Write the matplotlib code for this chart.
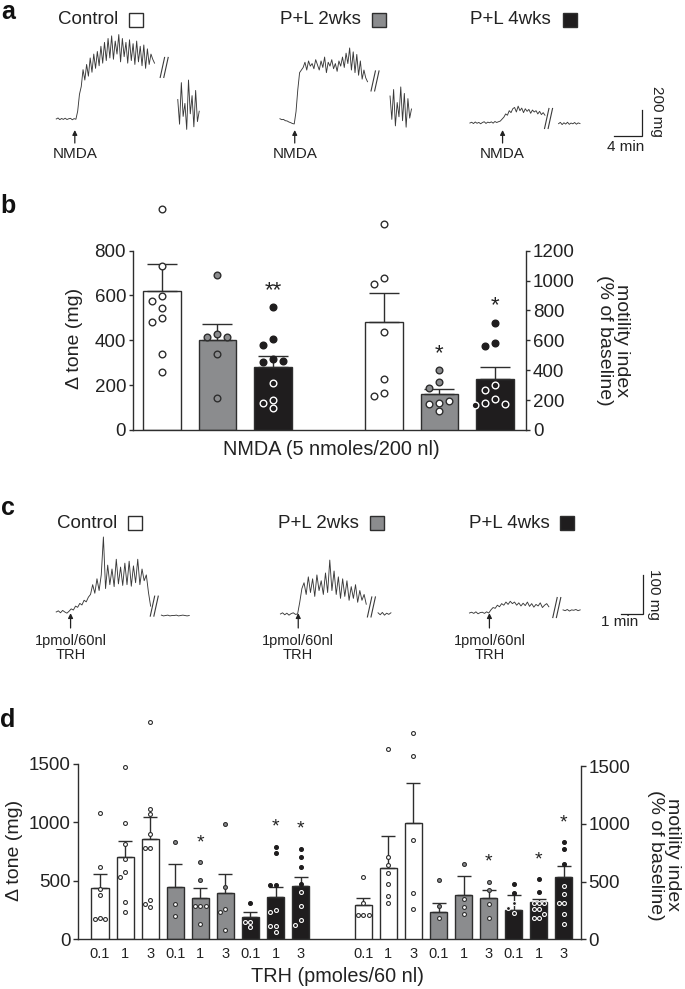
import numpy as np
import matplotlib.pyplot as plt
from matplotlib.patches import Rectangle

plt.rcParams['font.family'] = ['Liberation Sans', 'DejaVu Sans']

W, H = 685, 989

# ---------------- data ----------------
groups = ['Control', 'P+L 2wks', 'P+L 4wks']

# panel a: NMDA traces, tone (mg above baseline), one sample every 0.25 min
a_ctrl = [0, 8, -5, 4, -3, 6, -4, 2, 5, -6, 3, -2,
          60, 190, 250,
          380, 300, 420, 330, 470, 360, 500, 390, 520, 410, 560, 430, 590, 450,
          620, 470, 640, 460, 600, 500, 650, 440, 620, 480, 590, 430, 610, 450,
          580, 420, 600, 440, 560, 410, 570, 390, 540, 420, 500, 460, 430]
a_ctrl_post = [150, -40, 280, 20, 120, -80, 300, 40, 180, -60, 220, -20, 60]
a_2wk = [25, 18, 20, 10, 8, 0, -5, -12, -15,
         80, 250, 380, 400,
         420, 460, 400, 470, 430, 450, 410, 480, 440, 400, 470, 420, 500, 380,
         460, 430, 480, 410, 450, 390, 470, 430, 500, 420, 530, 450, 570, 400,
         540, 380, 520, 360, 470, 330, 400, 340, 310]
a_2wk_post = [200, 20, 250, -30, 150, 40, 270, 10, 220, -40, 180, 30, 100]
a_4wk = [0, 6, -4, 8, -2, 5, -6, 4, 10, -3, 7, 2, 9, -1, 12, 4, 10, 15,
         30, 45, 70, 60, 95, 80, 110,
         120, 85, 130, 95, 115, 80, 110, 90, 105, 75, 100, 85, 95, 70, 90, 65, 80, 60]
a_4wk_post = [-5, 5, -12, 2, -8, 6, -10, 0, -6, 4, -9, 1, -4]

# panel c: TRH traces, one sample every 0.1 min
c_ctrl = [0, 3, -2, 4, 0, -3, 2,
          8, 5, 15, 12, 22, 18, 30, 26, 38,
          45, 70, 48, 85, 55, 95, 192, 60, 120, 70, 110, 65, 135, 72, 115, 68,
          125, 70, 130, 66, 118, 75, 135, 70, 110, 80, 95,
          50, 15]
c_ctrl_post = [-8, -10, -9, -8, -10, -9, -9, -8, -10, -9, -8, -9, -10, -9]
c_2wk = [0, 3, -2, 2, -3, 1, 3, -1, 0,
         30, 65, 80,
         50, 95, 55, 90, 45, 100, 60, 85, 50, 105, 55, 138, 60, 110, 50, 95,
         40, 90, 45, 85, 35, 70, 40, 75, 30, 60, 35, 50, 25]
c_2wk_post = [3, -2, 4, -3, 2, -1, 3]
c_4wk = [0, 2, -1, 3, -2, 1, 2, -1, 3, 0,
         8, 14, 12, 20, 16, 24, 20, 28, 22, 30, 24, 28, 20, 26, 18, 25, 19, 28,
         17, 24, 15, 22, 18, 26, 14, 20, 24, 16]
c_4wk_post = [8, 6, 9, 5, 8, 7, 9, 6, 8]

# panel b: NMDA (5 nmoles/200 nl)
b_kinds = ['w', 'g', 'k']
tone_mean = [618, 402, 283]
tone_sem = [124, 73, 45]
tone_filled = [[], [693, 428, 416, 413, 338, 144], [547, 408, 377, 317, 305, 308]]
tone_open = [[986, 733, 599, 575, 542, 499, 481, 338, 258], [], [209, 134, 122, 97]]
tone_sig = ['', '', '**']
mot_mean = [726, 241, 342]
mot_sem = [194, 36, 78]
mot_filled = [[], [400, 320, 284], [719, 585, 563]]
mot_open = [[1378, 1014, 978, 659, 344, 250, 226], [181, 176, 196, 125],
            [299, 268, 206, 181, 172, 168]]
mot_sig = ['', '*', '*']

# panel d: TRH doses
doses = ['0.1', '1', '3'] * 3
d_kinds = ['w'] * 3 + ['g'] * 3 + ['k'] * 3
d_tone_mean = [436, 701, 858, 447, 356, 399, 188, 362, 456]
d_tone_sem = [125, 139, 190, 200, 80, 157, 43, 88, 80]
d_tone_filled = [[], [], [], [835], [658, 507], [986, 444], [313],
                 [792, 735, 464, 464], [775, 701, 621, 473]]
d_tone_open = [[1083, 621, 427, 379, 180, 174, 174],
               [1473, 997, 812, 684, 573, 533, 322, 231],
               [1855, 1117, 1068, 897, 783, 778, 336, 299, 274],
               [302, 202], [285, 285, 285, 131], [256, 234, 80],
               [151, 151, 108], [251, 231, 117, 117, 66], [405, 285, 165, 123]]
d_tone_sig = ['', '', '', '', '*', '', '', '*', '*']
d_mot_mean = [297, 614, 1003, 240, 383, 357, 257, 320, 543]
d_mot_sem = [58, 283, 348, 70, 168, 69, 129, 29, 88]
d_mot_filled = [[], [], [], [517, 291], [649], [500, 423], [483, 403],
                [520, 406], [843, 786, 651]]
d_mot_open = [[537, 312, 210, 210, 210],
              [1651, 709, 643, 577, 476, 378, 317],
              [1786, 1586, 860, 403, 266],
              [186], [346, 280, 217], [309, 186], [314, 274, 231],
              [311, 311, 311, 266, 266, 223, 186, 186],
              [460, 389, 314, 314, 223, 129]]
d_mot_sig = ['', '', '', '', '', '*', '', '*', '*']

# ---------------- style ----------------
EDGE = '#2e2e2e'
GRAY = '#8b8c8e'
BLACK = '#1f1d1e'
TRACE = '#3a3a3a'
FILL = {'w': 'white', 'g': GRAY, 'k': BLACK}
# (face, edge) for filled / open dots
DOT = {'w': {False: ('white', EDGE)},
       'g': {True: (GRAY, EDGE), False: ('white', EDGE)},
       'k': {True: (BLACK, BLACK), False: (BLACK, 'white')}}

fig = plt.figure(figsize=(W / 100, H / 100), dpi=100)


def fig_ax(x0, y0, x1, y1):
    return fig.add_axes([x0 / W, 1 - y1 / H, (x1 - x0) / W, (y1 - y0) / H])


def px_scale(ax):
    # data units per pixel
    x0, x1 = ax.get_xlim()
    y0, y1 = ax.get_ylim()
    bb = ax.get_position()
    return (x1 - x0) / (bb.width * W), (y1 - y0) / (bb.height * H)


def swarm(ys, step, diam):
    placed, ks = [], []
    for y in ys:
        for k in (0, -1, 1, -2, 2, -3, 3):
            if all((k * step - a) ** 2 + (y - b) ** 2 >= diam ** 2 for a, b in placed):
                break
        placed.append((k * step, y))
        ks.append(k)
    return ks


def bar_panel(ax, pos, means, sems, kinds, filled, opened, sig,
              width, cap, ms, mew, step_px, star_fs, star_gap):
    ux, uy = px_scale(ax)
    diam = (ms + mew) * 100 / 72
    for p, m, s, k, f, o, g in zip(pos, means, sems, kinds, filled, opened, sig):
        ax.bar(p, m, width, color=FILL[k], edgecolor=EDGE, linewidth=1.0, zorder=2)
        ax.errorbar(p, m, yerr=[[0], [s]], fmt='none', ecolor=EDGE,
                    elinewidth=1.0, capsize=cap, capthick=1.0, zorder=3)
        vals = list(f) + list(o)
        kind_f = [True] * len(f) + [False] * len(o)
        ks = swarm([v / uy for v in vals], step_px, diam)
        for v, kk, isf in zip(vals, ks, kind_f):
            fc, ec = DOT[k][isf]
            ax.plot(p + kk * step_px * ux, v, 'o', ms=ms, mfc=fc, mec=ec, mew=mew,
                    zorder=4, clip_on=False)
        if g:
            top = max(vals + [m + s]) / uy + star_gap
            base = top - 0.585 * star_fs * 100 / 72
            ax.text(p, base * uy, g, ha='center', va='baseline', fontsize=star_fs,
                    color='#222222', zorder=5)


def style_axes(ax, ax2, lbounds, rbounds, lticks, rticks, tl):
    ax.spines['top'].set_visible(False)
    ax.spines['right'].set_visible(False)
    for sp in ['top', 'left', 'bottom']:
        ax2.spines[sp].set_visible(False)
    ax.spines['left'].set_bounds(*lbounds)
    ax2.spines['right'].set_bounds(*rbounds)
    for a in (ax, ax2):
        for sp in a.spines.values():
            sp.set_color(EDGE)
            sp.set_linewidth(1.0)
        a.tick_params(axis='y', direction='out', length=tl, width=1.0, color=EDGE,
                      labelsize=13.5, pad=2, labelcolor='#222222')
    ax.set_yticks(lticks)
    ax2.set_yticks(rticks)


def trace(ax, t0, base, vals, dt):
    t = t0 + dt * np.arange(len(vals))
    ax.plot(t, base + np.asarray(vals, float), color=TRACE, lw=0.65)


def brk(ax, t, y):
    ux, uy = px_scale(ax)
    for dx in (-1.8, 1.8):
        ax.plot([t + (dx - 2.2) * ux, t + (dx + 2.2) * ux], [y - 10 * uy, y + 10 * uy],
                color=TRACE, lw=0.8)


def arrow(ax, t, tip, tail):
    ax.annotate('', xy=(t, tip), xytext=(t, tail),
                arrowprops=dict(arrowstyle='-|>', lw=0.9, color='#222222',
                                mutation_scale=7, shrinkA=0, shrinkB=0))


def header(y, xs, sqs):
    for name, x, sq, k in zip(groups, xs, sqs, b_kinds):
        fig.text(x / W, 1 - y / H, name, ha='left', va='center', fontsize=13.5,
                 color='#222222')
        fig.add_artist(Rectangle((sq / W, 1 - (y + 7) / H), 14 / W, 14 / H,
                                 transform=fig.transFigure, facecolor=FILL[k],
                                 edgecolor=EDGE, linewidth=1.0))


def letter(x, y, s, va='baseline'):
    fig.text(x / W, 1 - y / H, s, fontsize=18, fontweight='bold', va=va,
             ha='left', color='#111111')


# ---------------- panel a ----------------
letter(1, 0, 'a', va='top')
header(20, [58, 280, 470], [129, 372, 563])
ax_a = fig_ax(40, 25, 660, 165)
ax_a.set_xlim(-2.27, 84.45)
ax_a.set_ylim(-354.2, 723.8)
ax_a.axis('off')
for t0, base, main, post, tpost, (bt, by), ta in [
        (0.0, 0, a_ctrl, a_ctrl_post, 17.0, (15.1, 397), 2.6),
        (31.29, -23, a_2wk, a_2wk_post, 15.4, (13.3, 316), 2.07),
        (57.86, -31, a_4wk, a_4wk_post, 12.4, (11.0, 35), 4.57)]:
    trace(ax_a, t0, base, main, 0.25)
    trace(ax_a, t0 + tpost, base, post, 0.25)
    brk(ax_a, t0 + bt, base + by)
    arrow(ax_a, t0 + ta, -85, -185)
    ax_a.text(t0 + ta, -266, 'NMDA', ha='center', va='center', fontsize=11,
              color='#222222')
ax_a.plot([82, 82, 78], [69, -131, -131], color='#222222', lw=0.9,
          solid_joinstyle='miter')
ax_a.text(84.0, 62, '200 mg', rotation=270, ha='center', va='center', fontsize=11,
          color='#222222')
ax_a.text(79.6, -216, '4 min', ha='center', va='center', fontsize=11, color='#222222')

# ---------------- panel b ----------------
letter(0, 213, 'b')
ax_b = fig_ax(133, 200, 526, 430)
ax_b.set_xlim(-0.52, 6.56)
ax_b.set_ylim(0, 1026)
ax_b2 = ax_b.twinx()
ax_b2.set_ylim(0, 1539)
ax_b.set_xticks([])
style_axes(ax_b, ax_b2, (0, 800), (0, 1200), range(0, 801, 200),
           range(0, 1201, 200), 3)
bar_panel(ax_b, [0, 1, 2], tone_mean, tone_sem, b_kinds, tone_filled, tone_open,
          tone_sig, 0.68, 11, 4.8, 1.0, 10, 16, 24)
bar_panel(ax_b2, [4, 5, 6], mot_mean, mot_sem, b_kinds, mot_filled, mot_open,
          mot_sig, 0.68, 11, 4.8, 1.0, 10, 16, 24)
ax_b.set_ylabel('\u0394 tone (mg)', fontsize=14, color='#222222')
ax_b.yaxis.set_label_coords(-0.127, 0.40)
ax_b2.text(1.221, 0.391, 'motility index\n(% of baseline)', rotation=270,
           transform=ax_b2.transAxes, ha='center', va='center', fontsize=14,
           color='#222222', linespacing=1.05)
ax_b.text(0.504, -0.083, 'NMDA (5 nmoles/200 nl)', transform=ax_b.transAxes,
          ha='center', va='center', fontsize=14.3, color='#222222')

# ---------------- panel c ----------------
letter(1, 515, 'c')
header(523, [57, 278, 469], [128, 370, 560])
ax_c = fig_ax(40, 530, 660, 665)
ax_c.set_xlim(-0.755, 28.14)
ax_c.set_ylim(-135.7, 209.9)
ax_c.axis('off')
for t0, base, main, post, tpost, (bt, by), ta in [
        (0.0, 0, c_ctrl, c_ctrl_post, 4.9, (4.57, 15), 0.67),
        (10.45, -5.1, c_2wk, c_2wk_post, 4.55, (4.24, 18), 0.83),
        (19.26, -2.6, c_4wk, c_4wk_post, 4.36, (4.07, 14), 0.93)]:
    trace(ax_c, t0, base, main, 0.1)
    trace(ax_c, t0 + tpost, base, post, 0.1)
    brk(ax_c, t0 + bt, base + by)
    arrow(ax_c, t0 + ta, -3, -41)
    ax_c.text(t0 + ta, -92, '1pmol/60nl\nTRH', ha='center', va='center',
              fontsize=10.5, color='#222222', linespacing=1.05)
ax_c.plot([27.33, 27.33, 26.33], [95, -5, -5], color='#222222', lw=0.9,
          solid_joinstyle='miter')
ax_c.text(27.86, 46, '100 mg', rotation=270, ha='center', va='center', fontsize=11,
          color='#222222')
ax_c.text(26.24, -26, '1 min', ha='center', va='center', fontsize=11, color='#222222')

# ---------------- panel d ----------------
letter(0, 727, 'd')
ax_d = fig_ax(78.3, 715, 580.7, 939.3)
ax_d.set_xlim(-0.866, 19.17)
ax_d.set_ylim(0, 1916)
ax_d2 = ax_d.twinx()
ax_d2.set_ylim(0, 1942)
pos_l = np.arange(9)
pos_r = np.arange(9) + 10.5
style_axes(ax_d, ax_d2, (0, 1500), (0, 1500), [0, 500, 1000, 1500],
           [0, 500, 1000, 1500], 3.5)
ax_d.set_xticks(list(pos_l) + list(pos_r))
ax_d.set_xticklabels(doses + doses)
ax_d.tick_params(axis='x', length=0, pad=5.5, labelsize=10.5, labelcolor='#222222')
bar_panel(ax_d, pos_l, d_tone_mean, d_tone_sem, d_kinds, d_tone_filled, d_tone_open,
          d_tone_sig, 0.68, 5, 2.8, 0.8, 5.3, 14, 26)
bar_panel(ax_d2, pos_r, d_mot_mean, d_mot_sem, d_kinds, d_mot_filled, d_mot_open,
          d_mot_sig, 0.68, 5, 2.8, 0.8, 5.3, 14, 26)
ax_d.set_ylabel('\u0394 tone (mg)', fontsize=14, color='#222222')
ax_d.yaxis.set_label_coords(-0.110, 0.398)
ax_d2.text(1.166, 0.376, 'motility index\n(% of baseline)', rotation=270,
           transform=ax_d2.transAxes, ha='center', va='center', fontsize=14,
           color='#222222', linespacing=1.05)
ax_d.text(0.515, -0.168, 'TRH (pmoles/60 nl)', transform=ax_d.transAxes,
          ha='center', va='center', fontsize=14.3, color='#222222')

fig.savefig('out.png', dpi=100)
